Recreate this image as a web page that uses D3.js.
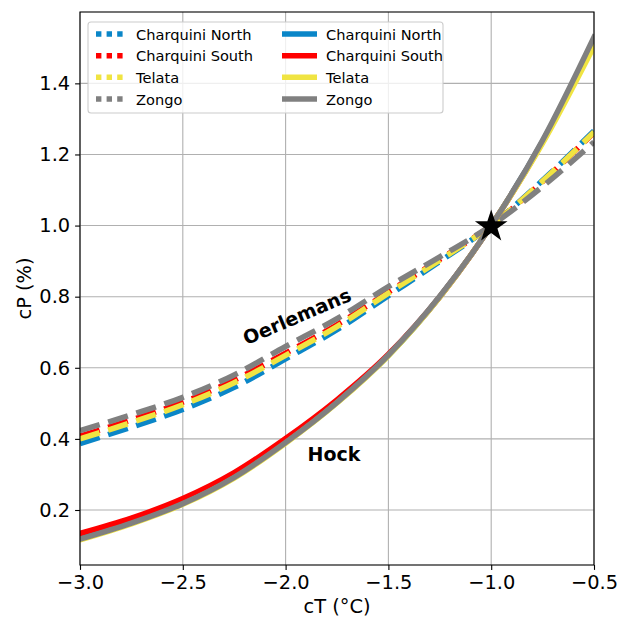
<!DOCTYPE html>
<html>
<head>
<meta charset="utf-8">
<script src="https://cdn.jsdelivr.net/npm/d3@7"></script>
<style>
  html, body { margin: 0; padding: 0; background: #fff; }
  svg { display: block; font-family: "DejaVu Sans", sans-serif; }
</style>
</head>
<body>
<svg id="chart" width="618" height="617"></svg>
<script>
// Temperature change (cT, °C) sampled along the x axis
const cT = [-3.0, -2.75, -2.5, -2.25, -2.0, -1.75, -1.5, -1.25, -1.0, -0.75, -0.5];

// Glacier names and colours
const glaciers = ["Charquini North", "Charquini South", "Telata", "Zongo"];
const colors = ["#0a86c8", "#ff0000", "#f0e442", "#808080"];

// Precipitation change cP (%) — Oerlemans relation (dashed)
const oerlemansCN = [0.387, 0.433, 0.483, 0.545, 0.625, 0.707, 0.803, 0.899, 1.0, 1.127, 1.266];
const oerlemansCS = [0.408, 0.453, 0.503, 0.565, 0.641, 0.721, 0.813, 0.905, 1.0, 1.124, 1.262];
const oerlemansTelata = [0.400, 0.446, 0.496, 0.558, 0.635, 0.716, 0.810, 0.903, 1.0, 1.125, 1.263];
const oerlemansZongo = [0.423, 0.468, 0.517, 0.580, 0.660, 0.738, 0.828, 0.912, 1.0, 1.110, 1.235];

// Precipitation change cP (%) — Hock relation (solid)
const hockCN = [0.120, 0.165, 0.220, 0.294, 0.391, 0.503, 0.635, 0.800, 1.0, 1.237, 1.520];
const hockCS = [0.134, 0.177, 0.232, 0.305, 0.401, 0.510, 0.638, 0.800, 1.0, 1.235, 1.518];
const hockTelata = [0.116, 0.161, 0.216, 0.290, 0.388, 0.501, 0.634, 0.799, 1.0, 1.232, 1.505];
const hockZongo = [0.118, 0.163, 0.218, 0.292, 0.390, 0.503, 0.636, 0.801, 1.0, 1.240, 1.530];

// Axis ticks
const xTicks = [-3.0, -2.5, -2.0, -1.5, -1.0, -0.5];
const yTicks = [0.2, 0.4, 0.6, 0.8, 1.0, 1.2, 1.4];

// Reference point where all curves meet
const refPoint = { cT: -1.0, cP: 1.0 };

const oerlemans = [oerlemansCN, oerlemansCS, oerlemansTelata, oerlemansZongo];
const hock = [hockCN, hockCS, hockTelata, hockZongo];

const svg = d3.select("#chart");
const M = { left: 80, right: 594, top: 12, bottom: 565 };

const allVals = oerlemans.concat(hock).flat();
const lo = d3.min(allVals), hi = d3.max(allVals);
const pad = (hi - lo) * 0.05;

const x = d3.scaleLinear().domain([-3.0, -0.5]).range([M.left, M.right]);
const y = d3.scaleLinear().domain([lo - pad, hi + pad]).range([M.bottom, M.top]);

const fontMain = 19.4;
const lw = 5.56;

// clip region for the plotting area
svg.append("defs").append("clipPath").attr("id", "plotclip")
  .append("rect").attr("x", M.left).attr("y", M.top)
  .attr("width", M.right - M.left).attr("height", M.bottom - M.top);

// grid
const grid = svg.append("g").attr("stroke", "#b0b0b0").attr("stroke-width", 1.1);
xTicks.forEach(t => grid.append("line")
  .attr("x1", x(t)).attr("x2", x(t)).attr("y1", M.top).attr("y2", M.bottom));
yTicks.forEach(t => grid.append("line")
  .attr("x1", M.left).attr("x2", M.right).attr("y1", y(t)).attr("y2", y(t)));

const line = d3.line().x((d, i) => x(cT[i])).y(d => y(d)).curve(d3.curveMonotoneX);

const plot = svg.append("g").attr("clip-path", "url(#plotclip)");

// dashed Oerlemans curves
oerlemans.forEach((s, k) => plot.append("path")
  .attr("d", line(s)).attr("fill", "none")
  .attr("stroke", colors[k]).attr("stroke-width", lw)
  .attr("stroke-dasharray", "20.6,8.9").attr("stroke-linecap", "butt"));

// solid Hock curves
hock.forEach((s, k) => plot.append("path")
  .attr("d", line(s)).attr("fill", "none")
  .attr("stroke", colors[k]).attr("stroke-width", lw)
  .attr("stroke-linecap", "square").attr("stroke-linejoin", "round"));

// star marker at the reference point
svg.append("path")
  .attr("d", d3.symbol().type(d3.symbolStar).size(330)())
  .attr("transform", `translate(${x(refPoint.cT)},${y(refPoint.cP) + 1})`)
  .attr("fill", "#000");

// curve labels
svg.append("text").text("Oerlemans")
  .attr("transform", `translate(${x(-1.945)},${y(0.745)}) rotate(-23)`)
  .attr("text-anchor", "middle").attr("dominant-baseline", "central")
  .attr("font-weight", "bold").attr("font-size", 19).attr("fill", "#000");
svg.append("text").text("Hock")
  .attr("x", x(-1.765)).attr("y", y(0.357))
  .attr("text-anchor", "middle").attr("dominant-baseline", "central")
  .attr("font-weight", "bold").attr("font-size", 19).attr("fill", "#000");

// axes
const xAxis = d3.axisBottom(x).tickValues(xTicks).tickSize(4.9).tickPadding(4.9)
  .tickFormat(d => d3.format(".1f")(d).replace("-", "\u2212"));
const yAxis = d3.axisLeft(y).tickValues(yTicks).tickSize(4.9).tickPadding(4.9)
  .tickFormat(d3.format(".1f"));

const gx = svg.append("g").attr("transform", `translate(0,${M.bottom})`).call(xAxis);
const gy = svg.append("g").attr("transform", `translate(${M.left},0)`).call(yAxis);
[gx, gy].forEach(g => {
  g.select(".domain").remove();
  g.selectAll("line").attr("stroke", "#000").attr("stroke-width", 1.1);
  g.selectAll("text").attr("font-size", fontMain).attr("fill", "#000")
    .attr("font-family", "DejaVu Sans");
});

// frame
svg.append("rect").attr("x", M.left).attr("y", M.top)
  .attr("width", M.right - M.left).attr("height", M.bottom - M.top)
  .attr("fill", "none").attr("stroke", "#000").attr("stroke-width", 1.1);

// axis titles
svg.append("text").text("cT (°C)")
  .attr("x", (M.left + M.right) / 2).attr("y", 613)
  .attr("text-anchor", "middle").attr("font-size", fontMain).attr("fill", "#000");
svg.append("text").text("cP (%)")
  .attr("transform", `translate(31,${(M.top + M.bottom) / 2}) rotate(-90)`)
  .attr("text-anchor", "middle").attr("font-size", fontMain).attr("fill", "#000");

// legend
const lg = svg.append("g");
lg.append("rect").attr("x", 88).attr("y", 22).attr("width", 355).attr("height", 91)
  .attr("rx", 3).attr("fill", "#fff").attr("fill-opacity", 0.8)
  .attr("stroke", "#cccccc").attr("stroke-width", 1.1);
const rowY = [34, 55.7, 77.3, 99];
glaciers.forEach((g, k) => {
  lg.append("line").attr("x1", 96).attr("x2", 124).attr("y1", rowY[k]).attr("y2", rowY[k])
    .attr("stroke", colors[k]).attr("stroke-width", lw).attr("stroke-dasharray", "5.4,5.2");
  lg.append("text").text(g).attr("x", 136).attr("y", rowY[k])
    .attr("dominant-baseline", "central").attr("font-size", 14.6).attr("fill", "#000");
  lg.append("line").attr("x1", 282).attr("x2", 317).attr("y1", rowY[k]).attr("y2", rowY[k])
    .attr("stroke", colors[k]).attr("stroke-width", lw);
  lg.append("text").text(g).attr("x", 326).attr("y", rowY[k])
    .attr("dominant-baseline", "central").attr("font-size", 14.6).attr("fill", "#000");
});
</script>
</body>
</html>
